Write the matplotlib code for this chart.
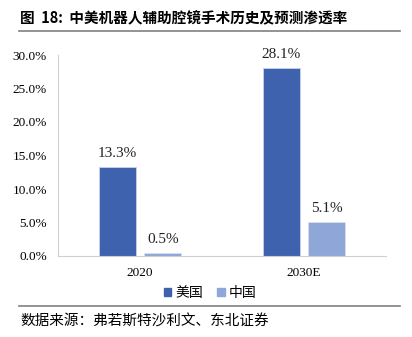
import matplotlib
matplotlib.use("Agg")
import matplotlib.pyplot as plt
from matplotlib.lines import Line2D
from matplotlib.patches import Patch

plt.rcParams['font.family'] = ['Liberation Serif', 'Noto Sans CJK SC']

# data
years = ['2020', '2030E']
usa = [13.3, 28.1]
china = [0.5, 5.1]
series_names = ['美国', '中国']
yticks = [0, 5, 10, 15, 20, 25, 30]

c_usa = '#3E62AD'
c_cn = '#8FA6D8'
cjk = ['Noto Sans CJK SC', 'DejaVu Sans']

fig = plt.figure(figsize=(4.12, 3.37), dpi=100)
W, H = 412, 337

# axes placed in pixel coords: x 58..386, y 55..256
ax = fig.add_axes([58 / W, 1 - 256 / H, 328 / W, 201 / H])

x = list(range(len(years)))
bw = 0.226
off = 0.14
b1 = ax.bar([i - off for i in x], usa, bw, color=c_usa, edgecolor='#C9D3EA', linewidth=0.6)
b2 = ax.bar([i + off for i in x], china, bw, color=c_cn, edgecolor='#D9E0F0', linewidth=0.6)

for bars, vals in ((b1, usa), (b2, china)):
    for r, v in zip(bars, vals):
        ax.annotate(f'{v:.1f}%', (r.get_x() + r.get_width() / 2, r.get_height()),
                    xytext=(0, 5), textcoords='offset points', ha='center', va='bottom',
                    fontsize=11, color='#222222')

ax.set_xlim(-0.5, 1.5)
ax.set_ylim(0, 30)
ax.set_yticks(yticks)
ax.set_yticklabels([f'{t:.1f}%' for t in yticks], fontsize=9.5)
ax.set_xticks(x)
ax.set_xticklabels(years, fontsize=9.5)
ax.tick_params(axis='both', length=0, pad=8)
ax.tick_params(axis='x', pad=8)
for s in ('top', 'right'):
    ax.spines[s].set_visible(False)
for s in ('left', 'bottom'):
    ax.spines[s].set_color('#D0D0D0')
    ax.spines[s].set_linewidth(0.8)

# legend
handles = [Patch(color=c_usa), Patch(color=c_cn)]
leg = fig.legend(handles, series_names, loc='center', bbox_to_anchor=(210 / W, 1 - 293 / H),
                 ncol=2, frameon=False, prop={'family': cjk, 'size': 10},
                 handlelength=0.55, handleheight=0.55, handletextpad=0.3, columnspacing=1.0)

# title and source
fig.text(20 / W, 1 - 18 / H, '图  18:  中美机器人辅助腔镜手术历史及预测渗透率',
         family=cjk, fontsize=10.5, fontweight='bold', va='center', ha='left')
fig.add_artist(Line2D([19 / W, 400 / W], [1 - 31 / H, 1 - 31 / H], color='#808080', lw=1.2))
fig.add_artist(Line2D([19 / W, 400 / W], [1 - 306 / H, 1 - 306 / H], color='#808080', lw=1.2))
fig.text(20 / W, 1 - 322 / H, '数据来源：弗若斯特沙利文、东北证券',
         family=cjk, fontsize=10.5, va='center', ha='left')

fig.savefig('out.png', dpi=100)
